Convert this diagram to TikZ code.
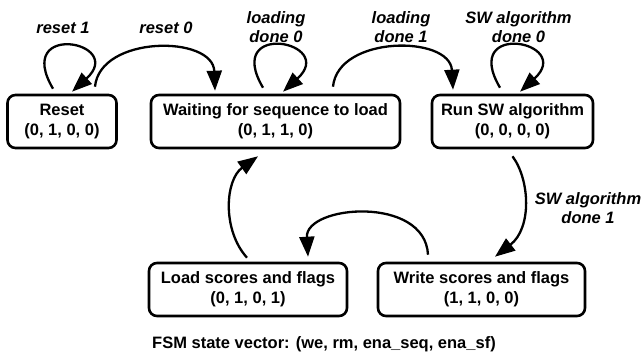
\documentclass[tikz,border=0pt]{standalone}
\usepackage{fontspec}
\setmainfont{Liberation Sans}
\usetikzlibrary{arrows.meta}
\begin{document}
\begin{tikzpicture}[x=1pt,y=-1pt,
  every node/.style={font=\fontsize{16.5}{20}\selectfont\bfseries, inner sep=0pt},
  state/.style={draw, line width=2.6pt, rounded corners=8pt, align=center, minimum height=53pt},
  lbl/.style={font=\fontsize{16.5}{19.5}\selectfont\bfseries\itshape, align=center},
  arr/.style={line width=2.3pt, -{Triangle[length=20pt,width=15pt]}}]
\useasboundingbox (0,0) rectangle (642,358);
\node[state, minimum width=109pt] (reset) at (62,121.5) {Reset\\(0, 1, 0, 0)};
\node[state, minimum width=249pt] (wait) at (275.5,121.5) {Waiting for sequence to load\\(0, 1, 1, 0)};
\node[state, minimum width=161pt] (run) at (512.5,121.5) {Run SW algorithm\\(0, 0, 0, 0)};
\node[state, minimum width=198pt] (load) at (248,289.5) {Load scores and flags\\(0, 1, 0, 1)};
\node[state, minimum width=207pt] (write) at (481.5,289.5) {Write scores and flags\\(1, 1, 0, 0)};

\node[lbl] (l1) at (63,28) {reset 1};
\node[lbl] (l2) at (166,28) {reset 0};
\node[lbl] (l3) at (276,27) {loading\\done 0};
\node[lbl] (l4) at (401,27) {loading\\done 1};
\node[lbl] (l5) at (518.5,27) {SW algorithm\\done 0};
\node[lbl] (l6) at (588,208) {SW algorithm\\done 1};
\node (fsm) at (324,344) {FSM state vector: (we, rm, ena\_seq, ena\_sf)};

% self loops
\draw[arr] ([shift={(-9,-5)}]reset.north) .. controls +(-40,-68) and +(55,-50) .. ([shift={(10,-2)}]reset.north);
\draw[arr] ([shift={(-12.5,-6)}]wait.north) .. controls +(-40,-68) and +(55,-50) .. ([shift={(7.5,-2)}]wait.north);
\draw[arr] ([shift={(-12.5,-6)}]run.north) .. controls +(-40,-68) and +(55,-50) .. ([shift={(7.5,-2)}]run.north);
% transitions
\draw[arr] ([shift={(33,-7)}]reset.north) .. controls (100,35) and (213,35) .. ([shift={(-60.5,-3)}]wait.north);
\draw[arr] ([shift={(57.5,-7)}]wait.north) .. controls (338,35) and (450,35) .. ([shift={(-59.5,-4)}]run.north);
\draw[arr] ([shift={(0,7)}]run.south) .. controls (530,180) and (532,228) .. ([shift={(13.5,-5)}]write.north);
\draw[arr] ([shift={(-53.5,-7)}]write.north) .. controls (425,195) and (305,205) .. ([shift={(60,-5)}]load.north);
\draw[arr] ([shift={(-1,-4)}]load.north) .. controls (222,230) and (225,180) .. ([shift={(-17.5,7)}]wait.south);
\end{tikzpicture}
\end{document}
